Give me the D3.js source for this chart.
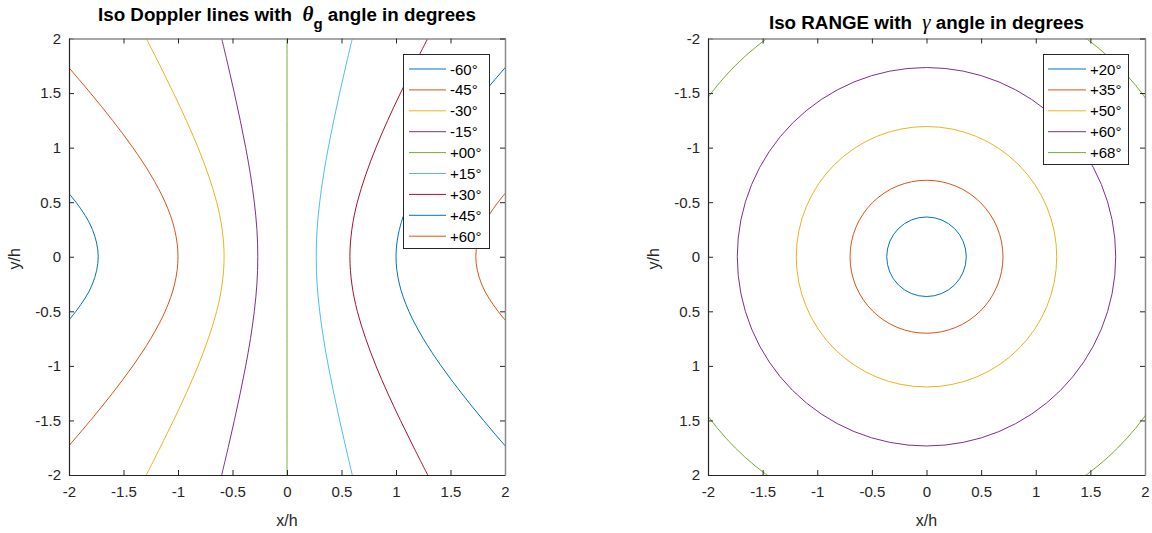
<!DOCTYPE html>
<html>
<head>
<meta charset="utf-8">
<script src="https://cdn.jsdelivr.net/npm/d3@7"></script>
<style>
  html, body { margin: 0; padding: 0; background: #fff; }
  svg { display: block; font-family: "Liberation Sans", Arial, Helvetica, sans-serif; }
</style>
</head>
<body>
<svg id="chart" width="1152" height="533"></svg>
<script>
// ---------------- DATA ----------------
const tickValues = [-2, -1.5, -1, -0.5, 0, 0.5, 1, 1.5, 2];
const tickLabels = ["-2", "-1.5", "-1", "-0.5", "0", "0.5", "1", "1.5", "2"];

// y/h sample positions for the iso-Doppler curves
const dopplerY = [-2, -1.75, -1.5, -1.25, -1, -0.75, -0.5, -0.25, 0, 0.25, 0.5, 0.75, 1, 1.25, 1.5, 1.75, 2];
const dopplerLabels = ["-60°", "-45°", "-30°", "-15°", "+00°", "+15°", "+30°", "+45°", "+60°"];
// x/h of each curve at the y/h positions above
const dopplerM60 = [-3.873, -3.491, -3.123, -2.773, -2.449, -2.165, -1.936, -1.785, -1.732, -1.785, -1.936, -2.165, -2.449, -2.773, -3.123, -3.491, -3.873];
const dopplerM45 = [-2.236, -2.016, -1.803, -1.601, -1.414, -1.250, -1.118, -1.031, -1.000, -1.031, -1.118, -1.250, -1.414, -1.601, -1.803, -2.016, -2.236];
const dopplerM30 = [-1.291, -1.164, -1.041, -0.924, -0.816, -0.722, -0.645, -0.595, -0.577, -0.595, -0.645, -0.722, -0.816, -0.924, -1.041, -1.164, -1.291];
const dopplerM15 = [-0.599, -0.540, -0.483, -0.429, -0.379, -0.335, -0.300, -0.276, -0.268, -0.276, -0.300, -0.335, -0.379, -0.429, -0.483, -0.540, -0.599];
const dopplerP00 = [0, 0, 0, 0, 0, 0, 0, 0, 0, 0, 0, 0, 0, 0, 0, 0, 0];
const dopplerP15 = [0.599, 0.540, 0.483, 0.429, 0.379, 0.335, 0.300, 0.276, 0.268, 0.276, 0.300, 0.335, 0.379, 0.429, 0.483, 0.540, 0.599];
const dopplerP30 = [1.291, 1.164, 1.041, 0.924, 0.816, 0.722, 0.645, 0.595, 0.577, 0.595, 0.645, 0.722, 0.816, 0.924, 1.041, 1.164, 1.291];
const dopplerP45 = [2.236, 2.016, 1.803, 1.601, 1.414, 1.250, 1.118, 1.031, 1.000, 1.031, 1.118, 1.250, 1.414, 1.601, 1.803, 2.016, 2.236];
const dopplerP60 = [3.873, 3.491, 3.123, 2.773, 2.449, 2.165, 1.936, 1.785, 1.732, 1.785, 1.936, 2.165, 2.449, 2.773, 3.123, 3.491, 3.873];
const dopplerSeries = [dopplerM60, dopplerM45, dopplerM30, dopplerM15, dopplerP00, dopplerP15, dopplerP30, dopplerP45, dopplerP60];

// iso-range circles: radius in units of h
const rangeLabels = ["+20°", "+35°", "+50°", "+60°", "+68°"];
const rangeRadii = [0.364, 0.700, 1.192, 1.732, 2.475];

// MATLAB default colour order
const colorOrder = ["#0072BD", "#D95319", "#EDB120", "#7E2F8E", "#77AC30", "#4DBEEE", "#A2142F"];

// ---------------- DRAWING ----------------
const svg = d3.select("#chart");
const axisColor = "#262626";

function makePanel(opts) {
  const { x0, x1, y0, y1, yReversed, id, ylabX } = opts;
  const x = d3.scaleLinear().domain([-2, 2]).range([x0, x1]);
  const y = d3.scaleLinear().domain(yReversed ? [-2, 2] : [2, -2]).range([y0, y1]);
  const g = svg.append("g");

  g.append("clipPath").attr("id", id).append("rect")
    .attr("x", x0).attr("y", y0).attr("width", x1 - x0).attr("height", y1 - y0);

  const plot = g.append("g").attr("clip-path", `url(#${id})`);

  const fmt = d => tickLabels[tickValues.indexOf(d)];
  const bottom = g.append("g").attr("transform", `translate(0,${y1})`)
    .call(d3.axisBottom(x).tickValues(tickValues).tickFormat(fmt).tickSizeInner(-5).tickSizeOuter(0).tickPadding(11));
  const left = g.append("g").attr("transform", `translate(${x0},0)`)
    .call(d3.axisLeft(y).tickValues(tickValues).tickFormat(fmt).tickSizeInner(-5).tickSizeOuter(0).tickPadding(8));
  const top = g.append("g").attr("transform", `translate(0,${y0})`)
    .call(d3.axisTop(x).tickValues(tickValues).tickFormat("").tickSizeInner(-5).tickSizeOuter(0));
  const right = g.append("g").attr("transform", `translate(${x1},0)`)
    .call(d3.axisRight(y).tickValues(tickValues).tickFormat("").tickSizeInner(-5).tickSizeOuter(0));

  [bottom, left].forEach(a => {
    a.select(".domain").attr("stroke", axisColor).attr("stroke-width", 1.2);
    a.selectAll(".tick line").attr("stroke", axisColor);
    a.selectAll(".tick text").attr("fill", axisColor).style("font-size", "15px")
      .style("font-family", "'Liberation Sans', Arial, sans-serif");
  });
  [top, right].forEach(a => {
    a.select(".domain").attr("stroke", "#8a8a8a").attr("stroke-width", 1.5);
    a.selectAll(".tick line").attr("stroke", axisColor);
  });

  g.append("text").attr("x", (x0 + x1) / 2).attr("y", 526)
    .attr("text-anchor", "middle").attr("fill", axisColor).style("font-size", "16px").text("x/h");
  g.append("text").attr("transform", `translate(${ylabX},${(y0 + y1) / 2 + 2}) rotate(-90)`)
    .attr("text-anchor", "middle").attr("fill", axisColor).style("font-size", "16px").text("y/h");

  return { x, y, g, plot };
}

// ---- Left panel: iso Doppler ----
const L = makePanel({ x0: 69, x1: 505, y0: 38.5, y1: 475, yReversed: false, id: "clipL", ylabX: 20 });
const line = d3.line().curve(d3.curveCatmullRom.alpha(0.5));
dopplerSeries.forEach((xs, i) => {
  const pts = xs.map((xv, j) => [L.x(xv), L.y(dopplerY[j])]);
  L.plot.append("path").attr("d", line(pts)).attr("fill", "none")
    .attr("stroke", colorOrder[i % colorOrder.length]).attr("stroke-width", 1);
});

{
  const t = L.g.append("text").attr("x", (69 + 505) / 2).attr("y", 21)
    .attr("text-anchor", "middle").attr("fill", "#000").style("font-size", "18.8px").style("font-weight", "bold");
  t.append("tspan").text("Iso Doppler lines with\u00a0\u00a0");
  t.append("tspan").style("font-family", "'Liberation Serif', 'Times New Roman', serif")
    .style("font-style", "italic").style("font-size", "21px").text("θ");
  t.append("tspan").attr("dy", 8).style("font-size", "15px").text("g");
  t.append("tspan").attr("dy", -8).text("\u00a0angle in degrees");
}

function legend(panel, labels, colors, bx, by, bw, bh, lineX0, lineX1, textX, rowY0, rowStep) {
  const lg = panel.g.append("g");
  lg.append("rect").attr("x", bx).attr("y", by).attr("width", bw).attr("height", bh)
    .attr("fill", "#fff").attr("stroke", axisColor).attr("stroke-width", 1);
  labels.forEach((lab, i) => {
    const yy = rowY0 + i * rowStep;
    lg.append("line").attr("x1", lineX0).attr("x2", lineX1).attr("y1", yy).attr("y2", yy)
      .attr("stroke", colors[i]).attr("stroke-width", 1);
    lg.append("text").attr("x", textX).attr("y", yy + 5.5).attr("fill", "#000")
      .style("font-size", "15px").text(lab);
  });
}
legend(L, dopplerLabels, dopplerLabels.map((d, i) => colorOrder[i % colorOrder.length]),
  403.5, 54.5, 86, 194, 409, 446, 450, 69, 20.9);

// ---- Right panel: iso range ----
const R = makePanel({ x0: 708, x1: 1145, y0: 38.5, y1: 475, yReversed: true, id: "clipR", ylabX: 659 });
rangeRadii.forEach((r, i) => {
  R.plot.append("circle").attr("cx", R.x(0)).attr("cy", R.y(0))
    .attr("r", R.x(r) - R.x(0)).attr("fill", "none")
    .attr("stroke", colorOrder[i % colorOrder.length]).attr("stroke-width", 1);
});
{
  const t = R.g.append("text").attr("x", (708 + 1145) / 2).attr("y", 29)
    .attr("text-anchor", "middle").attr("fill", "#000").style("font-size", "18.8px").style("font-weight", "bold");
  t.append("tspan").text("Iso RANGE with\u00a0\u00a0");
  t.append("tspan").style("font-family", "'Liberation Serif', 'Times New Roman', serif")
    .style("font-style", "italic").style("font-weight", "normal").style("font-size", "21px").text("γ");
  t.append("tspan").text("\u00a0angle in degrees");
}
legend(R, rangeLabels, rangeLabels.map((d, i) => colorOrder[i % colorOrder.length]),
  1043.5, 54.5, 85, 110, 1048, 1086, 1090, 69, 20.9);
</script>
</body>
</html>
